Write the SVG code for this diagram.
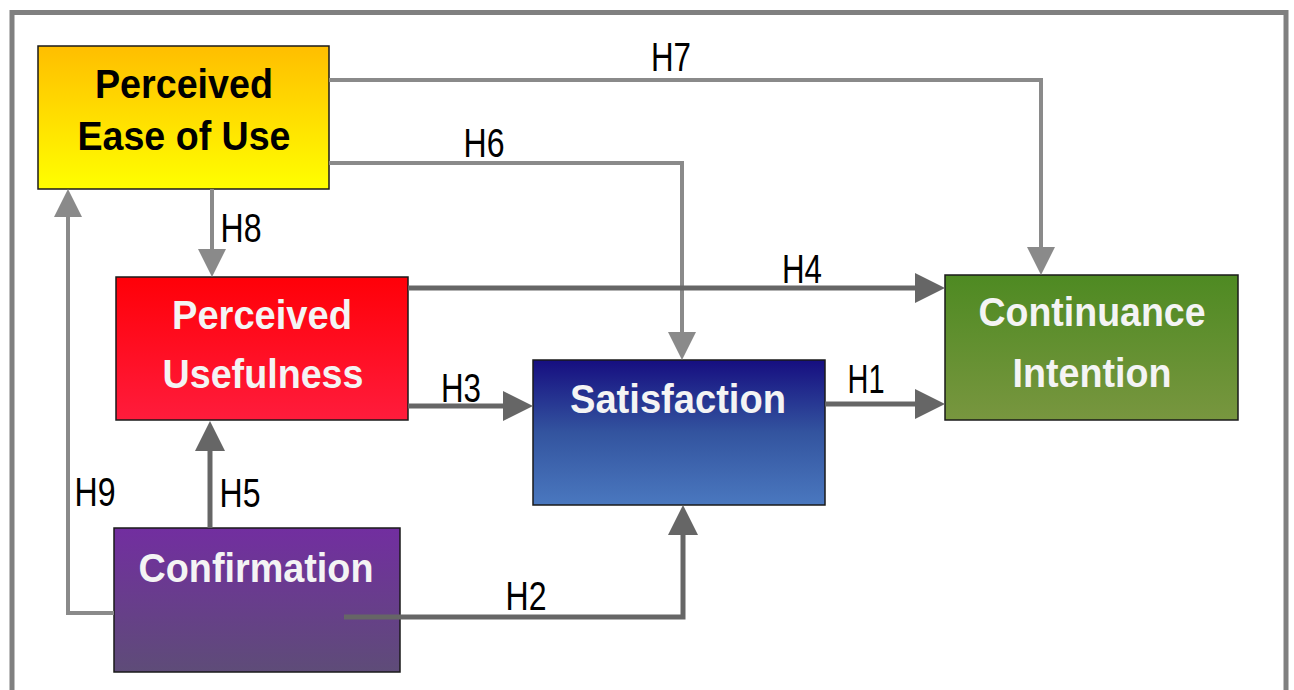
<svg xmlns="http://www.w3.org/2000/svg" width="1294" height="690" viewBox="0 0 1294 690">
<style>
.box{stroke:#1a1a1a;stroke-width:1.5}
.t{font-family:"Liberation Sans",Arial,sans-serif;font-weight:bold;font-size:40px;text-anchor:middle}
.w{fill:#f4f4f4}
.k{fill:#000}
.lbl{font-family:"Liberation Sans",Arial,sans-serif;font-size:40px;text-anchor:middle;fill:#000}
.cl{fill:none;stroke:#8a8a8a;stroke-width:4}
.cd{fill:none;stroke:#666666;stroke-width:5}
</style>
<defs>
<linearGradient id="gY" x1="0" y1="0" x2="0" y2="1"><stop offset="0" stop-color="#ffbe00"/><stop offset="1" stop-color="#ffff00"/></linearGradient>
<linearGradient id="gR" x1="0" y1="0" x2="0" y2="1"><stop offset="0" stop-color="#ff0008"/><stop offset="1" stop-color="#ff1c3c"/></linearGradient>
<linearGradient id="gB" x1="0" y1="0" x2="0" y2="1"><stop offset="0" stop-color="#160e80"/><stop offset="0.5" stop-color="#33549f"/><stop offset="1" stop-color="#4a78bf"/></linearGradient>
<linearGradient id="gG" x1="0" y1="0" x2="0" y2="1"><stop offset="0" stop-color="#4e8a22"/><stop offset="1" stop-color="#78963f"/></linearGradient>
<linearGradient id="gP" x1="0" y1="0" x2="0" y2="1"><stop offset="0" stop-color="#722ea0"/><stop offset="1" stop-color="#5e4c78"/></linearGradient>
<marker id="aL" markerUnits="userSpaceOnUse" viewBox="0 0 28 28" refX="14" refY="14" markerWidth="28" markerHeight="28" orient="auto"><path d="M0,0 L28,14 L0,28 z" fill="#8a8a8a"/></marker>
<marker id="aD" markerUnits="userSpaceOnUse" viewBox="0 0 30 30" refX="15" refY="15" markerWidth="30" markerHeight="30" orient="auto"><path d="M0,0 L30,15 L0,30 z" fill="#666666"/></marker>
</defs>
<rect width="1294" height="690" fill="#ffffff"/>
<rect x="12" y="12.5" width="1274" height="700" fill="none" stroke="#808080" stroke-width="5"/>

<g id="node-peou">
<rect class="box" x="38" y="46" width="291" height="143" fill="url(#gY)"/>
<text class="t k" x="184" y="98" textLength="178" lengthAdjust="spacingAndGlyphs">Perceived</text>
<text class="t k" x="184" y="150" textLength="213" lengthAdjust="spacingAndGlyphs">Ease of Use</text>
</g>
<g id="node-pu">
<rect class="box" x="116" y="277" width="292" height="143" fill="url(#gR)"/>
<text class="t w" x="262" y="329" textLength="180" lengthAdjust="spacingAndGlyphs">Perceived</text>
<text class="t w" x="263" y="388" textLength="201" lengthAdjust="spacingAndGlyphs">Usefulness</text>
</g>
<g id="node-sat">
<rect class="box" x="533" y="360" width="292" height="145" fill="url(#gB)"/>
<text class="t w" x="678" y="413" textLength="216" lengthAdjust="spacingAndGlyphs">Satisfaction</text>
</g>
<g id="node-ci">
<rect class="box" x="945" y="275" width="293" height="145" fill="url(#gG)"/>
<text class="t w" x="1092" y="326" textLength="227" lengthAdjust="spacingAndGlyphs">Continuance</text>
<text class="t w" x="1092" y="387" textLength="159" lengthAdjust="spacingAndGlyphs">Intention</text>
</g>
<g id="node-conf">
<rect class="box" x="114" y="528" width="286" height="144" fill="url(#gP)"/>
<text class="t w" x="256" y="582" textLength="235" lengthAdjust="spacingAndGlyphs">Confirmation</text>
</g>

<g id="connectors">
<path class="cl" d="M329,80 H1041 V261" marker-end="url(#aL)"/>
<path class="cl" d="M329,163 H682 V346" marker-end="url(#aL)"/>
<path class="cl" d="M212,189 V263" marker-end="url(#aL)"/>
<path class="cl" d="M114,613 H68 V203" marker-end="url(#aL)"/>
<path class="cd" d="M408,288 H930" marker-end="url(#aD)"/>
<path class="cd" d="M408,406 H518" marker-end="url(#aD)"/>
<path class="cd" d="M825,404 H930" marker-end="url(#aD)"/>
<path class="cd" d="M210,528 V436" marker-end="url(#aD)"/>
<path class="cd" d="M344,617 H683 V520" marker-end="url(#aD)"/>
<text class="lbl" x="671" y="71" textLength="40" lengthAdjust="spacingAndGlyphs">H7</text>
<text class="lbl" x="484" y="157" textLength="41" lengthAdjust="spacingAndGlyphs">H6</text>
<text class="lbl" x="241" y="242" textLength="41" lengthAdjust="spacingAndGlyphs">H8</text>
<text class="lbl" x="802" y="283" textLength="40" lengthAdjust="spacingAndGlyphs">H4</text>
<text class="lbl" x="461" y="402" textLength="40" lengthAdjust="spacingAndGlyphs">H3</text>
<text class="lbl" x="866" y="393" textLength="37" lengthAdjust="spacingAndGlyphs">H1</text>
<text class="lbl" x="240" y="507" textLength="41" lengthAdjust="spacingAndGlyphs">H5</text>
<text class="lbl" x="95" y="506" textLength="41" lengthAdjust="spacingAndGlyphs">H9</text>
<text class="lbl" x="526" y="610" textLength="41" lengthAdjust="spacingAndGlyphs">H2</text>
</g>
</svg>
